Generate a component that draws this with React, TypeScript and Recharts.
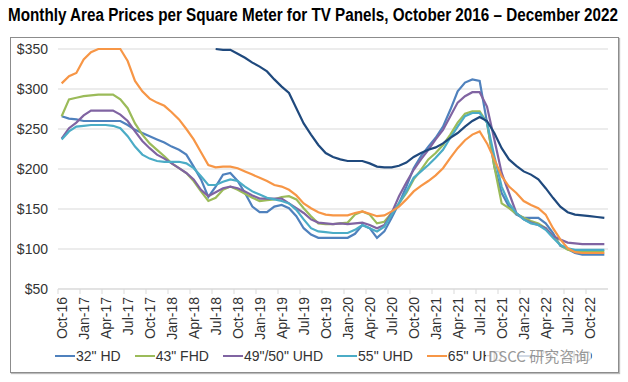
import { LineChart, Line, XAxis, YAxis, CartesianGrid } from 'recharts';

const months = [
  'Oct-16', 'Nov-16', 'Dec-16',
  'Jan-17', 'Feb-17', 'Mar-17', 'Apr-17', 'May-17', 'Jun-17', 'Jul-17', 'Aug-17', 'Sep-17', 'Oct-17', 'Nov-17', 'Dec-17',
  'Jan-18', 'Feb-18', 'Mar-18', 'Apr-18', 'May-18', 'Jun-18', 'Jul-18', 'Aug-18', 'Sep-18', 'Oct-18', 'Nov-18', 'Dec-18',
  'Jan-19', 'Feb-19', 'Mar-19', 'Apr-19', 'May-19', 'Jun-19', 'Jul-19', 'Aug-19', 'Sep-19', 'Oct-19', 'Nov-19', 'Dec-19',
  'Jan-20', 'Feb-20', 'Mar-20', 'Apr-20', 'May-20', 'Jun-20', 'Jul-20', 'Aug-20', 'Sep-20', 'Oct-20', 'Nov-20', 'Dec-20',
  'Jan-21', 'Feb-21', 'Mar-21', 'Apr-21', 'May-21', 'Jun-21', 'Jul-21', 'Aug-21', 'Sep-21', 'Oct-21', 'Nov-21', 'Dec-21',
  'Jan-22', 'Feb-22', 'Mar-22', 'Apr-22', 'May-22', 'Jun-22', 'Jul-22', 'Aug-22', 'Sep-22', 'Oct-22', 'Nov-22', 'Dec-22',
];

const hd32 = [
  266, 263, 262, 260, 260, 260, 260, 260, 260, 255, 249, 245, 241, 237, 233,
  228, 224, 218, 203, 187, 165, 178, 193, 195, 185, 170, 153,
  146, 146, 153, 155, 151, 141, 126, 118, 114, 114, 114, 114,
  114, 119, 130, 126, 114, 122, 139, 157, 178, 201, 216, 228,
  239, 253, 274, 297, 308, 312, 310, 258, 203, 170, 153, 143,
  139, 139, 139, 132, 120, 104, 100, 95, 93, 93, 93, 93,
];

const fhd43 = [
  266, 287, 289, 291, 292, 293, 293, 293, 287, 276, 257, 243, 232, 224, 216,
  207, 201, 195, 185, 172, 160, 164, 174, 178, 174, 169, 164,
  160, 161, 162, 165, 166, 162, 151, 141, 132, 131, 131, 132,
  133, 143, 147, 143, 132, 134, 145, 157, 170, 187, 199, 212,
  220, 230, 243, 258, 269, 272, 272, 258, 203, 157, 151, 144,
  139, 135, 132, 126, 116, 105, 99, 97, 97, 97, 97, 97,
];

const uhd4950 = [
  238, 251, 258, 267, 273, 273, 273, 273, 268, 260, 247, 235, 226, 218, 213,
  207, 201, 195, 187, 174, 166, 171, 176, 178, 176, 172, 167,
  163, 163, 163, 163, 157, 151, 145, 137, 133, 132, 131, 132,
  131, 132, 133, 130, 126, 130, 145, 166, 183, 199, 212, 224,
  237, 249, 266, 283, 291, 296, 296, 278, 237, 195, 170, 145,
  137, 133, 130, 126, 116, 112, 108, 107, 106, 106, 106, 106,
];

const uhd55 = [
  237, 247, 253, 254, 255, 255, 255, 254, 251, 241, 228, 218, 213, 210, 209,
  209, 209, 207, 201, 191, 180, 180, 184, 187, 185, 178, 172,
  168, 164, 162, 160, 157, 149, 137, 126, 122, 121, 120, 120,
  120, 124, 130, 126, 122, 128, 143, 157, 172, 189, 197, 205,
  214, 224, 239, 253, 266, 270, 270, 258, 216, 178, 157, 145,
  137, 132, 130, 124, 114, 105, 101, 99, 99, 99, 99, 99,
];

const uhd65 = [
  307, 316, 320, 337, 346, 350, 350, 350, 350, 335, 310, 297, 288, 283, 279,
  271, 262, 250, 237, 221, 205, 202, 203, 203, 201, 197, 193,
  189, 185, 180, 178, 174, 167, 157, 151, 146, 143, 142, 142,
  142, 145, 147, 144, 141, 142, 147, 153, 162, 172, 179, 185,
  192, 201, 214, 226, 236, 243, 247, 232, 212, 191, 178, 170,
  160, 155, 151, 143, 126, 112, 101, 96, 95, 95, 95, 95,
];

const uhd75 = [
  null, null, null, null, null, null, null, null, null, null, null, null, null, null, null,
  null, null, null, null, null, null, 350, 349, 349, 344, 339, 333,
  328, 322, 312, 303, 295, 276, 257, 243, 230, 220, 215, 212,
  210, 210, 210, 207, 203, 202, 202, 204, 208, 215, 220, 224,
  227, 232, 239, 245, 253, 260, 265, 260, 245, 226, 212, 204,
  197, 193, 187, 176, 164, 153, 146, 143, 142, 141, 140, 139,
];

const series = [
  { key: 'hd32', name: '32" HD', color: '#4F81BD', values: hd32 },
  { key: 'fhd43', name: '43" FHD', color: '#9BBB59', values: fhd43 },
  { key: 'uhd4950', name: '49"/50" UHD', color: '#8064A2', values: uhd4950 },
  { key: 'uhd55', name: '55" UHD', color: '#4BACC6', values: uhd55 },
  { key: 'uhd65', name: '65" UHD', color: '#F79646', values: uhd65 },
  { key: 'uhd75', name: '75" UHD', color: '#1F497D', values: uhd75 },
];

const yTicks = [50, 100, 150, 200, 250, 300, 350];

const data = months.map((m, i) => {
  const row: Record<string, string | number | null> = { month: m };
  series.forEach((s) => {
    row[s.key] = s.values[i];
  });
  return row;
});

const FONT = '"Liberation Sans", Arial, sans-serif';
const STEP = 550 / months.length;

function MonthTick({ x, payload }: any) {
  const tx = x + 5;
  const ty = 297;
  return (
    <g>
      <line x1={x - STEP / 2} x2={x - STEP / 2} y1={289} y2={294} stroke="#d9d9d9" />
      <text
        x={tx}
        y={ty}
        transform={`rotate(-90, ${tx}, ${ty})`}
        textAnchor="end"
        fontSize={14}
        fontFamily={FONT}
        fill="#333"
      >
        {payload.value}
      </text>
    </g>
  );
}

export default function App() {
  return (
    <div
      style={{
        position: 'absolute',
        left: 0,
        top: 0,
        width: 628,
        height: 382,
        background: '#fff',
        fontFamily: FONT,
        overflow: 'hidden',
      }}
    >
      <svg width={628} height={32} style={{ position: 'absolute', left: 0, top: 0 }}>
        <text
          x={8}
          y={21}
          fontSize={18}
          fontWeight="bold"
          fontFamily={FONT}
          textLength={610}
          lengthAdjust="spacingAndGlyphs"
          fill="#000"
        >
          Monthly Area Prices per Square Meter for TV Panels, October 2016 – December 2022
        </text>
      </svg>

      <div
        style={{
          position: 'absolute',
          left: 10,
          top: 37,
          width: 607,
          height: 334,
          border: '1px solid #8c8c8c',
          boxShadow: '1px 1px 1px #bbb',
        }}
      />

      <div style={{ position: 'absolute', left: 0, top: 0 }}>
        <LineChart width={628} height={382} data={data} margin={{ top: 49, right: 20, bottom: 43, left: 0 }}>
          <CartesianGrid vertical={false} stroke="#d9d9d9" />
          <XAxis
            dataKey="month"
            interval={2}
            height={50}
            padding={{ left: STEP / 2, right: STEP / 2 }}
            axisLine={{ stroke: '#d9d9d9' }}
            tickLine={false}
            tick={<MonthTick />}
          />
          <YAxis
            width={58}
            domain={[50, 350]}
            ticks={yTicks}
            axisLine={false}
            tickLine={false}
            tickMargin={4}
            tick={{ fontSize: 14, fill: '#333', fontFamily: FONT }}
            tickFormatter={(v: number) => `$${v}`}
          />
          {series.map((s) => (
            <Line
              key={s.key}
              type="linear"
              dataKey={s.key}
              name={s.name}
              stroke={s.color}
              strokeWidth={2.2}
              dot={false}
              isAnimationActive={false}
            />
          ))}
        </LineChart>
      </div>

      <div
        style={{
          position: 'absolute',
          left: 55,
          top: 348,
          height: 16,
          display: 'flex',
          gap: 14,
          fontSize: 14,
          lineHeight: '16px',
          color: '#333',
          whiteSpace: 'nowrap',
        }}
      >
        {series.map((s) => (
          <div key={s.key} style={{ display: 'flex', alignItems: 'center' }}>
            <span style={{ display: 'inline-block', width: 20, height: 2.5, background: s.color, marginRight: 1 }} />
            <span>{s.name}</span>
          </div>
        ))}
      </div>

      <div
        style={{
          position: 'absolute',
          left: 486,
          top: 347,
          fontSize: 15,
          lineHeight: '18px',
          color: 'rgba(140,140,140,0.9)',
          background: 'rgba(255,255,255,0.8)',
          padding: '0 2px',
          fontFamily: '"Noto Sans CJK SC", "Liberation Sans", sans-serif',
          whiteSpace: 'nowrap',
        }}
      >
        DSCC 研究咨询
      </div>
    </div>
  );
}
